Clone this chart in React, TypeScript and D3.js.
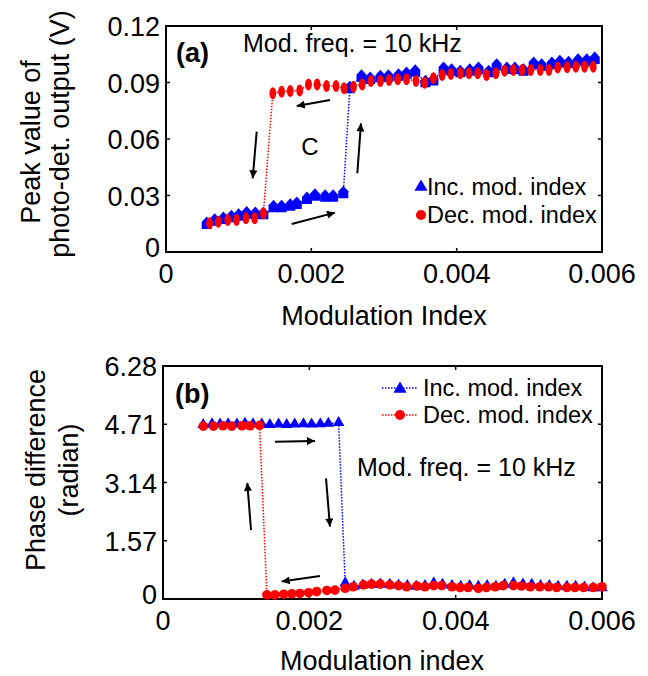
import React from "react";
import * as d3 from "d3";

// ---------- Data ----------
const xTickVals = [0, 0.002, 0.004, 0.006];
const xTickLabels = ["0", "0.002", "0.004", "0.006"];
const yTickValsA = [0, 0.03, 0.06, 0.09, 0.12];
const yTickLabelsA = ["0", "0.03", "0.06", "0.09", "0.12"];
const yTickValsB = [0, 1.57, 3.14, 4.71, 6.28];
const yTickLabelsB = ["0", "1.57", "3.14", "4.71", "6.28"];

// (a) peak value, increasing modulation index
const incXA = [0.00056, 0.00067, 0.00079, 0.0009, 0.001, 0.00111, 0.00123, 0.00134, 0.00148, 0.00159, 0.00171, 0.0018, 0.00194, 0.00205, 0.00219, 0.0023, 0.00244, 0.00253, 0.00269, 0.00281, 0.00295, 0.00306, 0.0032, 0.00331, 0.00343, 0.00357, 0.00368, 0.00382, 0.00393, 0.00405, 0.00418, 0.0043, 0.00444, 0.00455, 0.00469, 0.0048, 0.00492, 0.00506, 0.00517, 0.00531, 0.00542, 0.00554, 0.00567, 0.00579, 0.0059];
const incYA = [0.0149, 0.0166, 0.0175, 0.0184, 0.0193, 0.0205, 0.0202, 0.02, 0.0237, 0.0237, 0.0246, 0.0255, 0.0281, 0.0299, 0.0294, 0.0294, 0.0312, 0.0869, 0.0931, 0.0919, 0.0928, 0.0931, 0.0936, 0.0945, 0.0957, 0.0901, 0.091, 0.0972, 0.0963, 0.0954, 0.0963, 0.0972, 0.0954, 0.0989, 0.0972, 0.0972, 0.0963, 0.0998, 0.0989, 0.0998, 0.1007, 0.1002, 0.1016, 0.1016, 0.1025];
// (a) decreasing modulation index
const decXA = [0.0006, 0.00072, 0.00085, 0.00097, 0.0011, 0.00122, 0.00134, 0.00147, 0.00159, 0.00171, 0.00184, 0.00196, 0.00208, 0.00221, 0.00234, 0.00245, 0.00258, 0.0027, 0.00282, 0.00295, 0.00307, 0.00319, 0.00331, 0.00344, 0.00356, 0.00368, 0.0038, 0.00392, 0.00405, 0.00417, 0.00429, 0.00441, 0.00454, 0.00466, 0.00478, 0.0049, 0.00502, 0.00515, 0.00527, 0.00539, 0.00552, 0.00564, 0.00576, 0.00588];
const decYA = [0.0152, 0.0161, 0.017, 0.017, 0.0179, 0.0179, 0.0205, 0.0843, 0.0851, 0.0855, 0.0857, 0.089, 0.089, 0.0881, 0.0881, 0.0869, 0.0878, 0.089, 0.0908, 0.0908, 0.0913, 0.0917, 0.0917, 0.0908, 0.0899, 0.0922, 0.094, 0.0945, 0.0949, 0.0949, 0.0949, 0.094, 0.0949, 0.0963, 0.0966, 0.0966, 0.0966, 0.0966, 0.0966, 0.0979, 0.0981, 0.0984, 0.0984, 0.0984];

// (b) phase difference, increasing modulation index
const incXB = [0.00055, 0.00067, 0.00078, 0.00089, 0.00101, 0.00112, 0.00123, 0.00135, 0.00146, 0.00158, 0.00169, 0.0018, 0.00192, 0.00203, 0.00215, 0.00226, 0.0024, 0.00249, 0.00261, 0.00273, 0.00285, 0.00297, 0.0031, 0.00322, 0.00334, 0.00346, 0.00358, 0.0037, 0.00382, 0.00395, 0.00407, 0.00419, 0.00431, 0.00443, 0.00455, 0.00467, 0.00479, 0.00492, 0.00504, 0.00516, 0.00528, 0.0054, 0.00552, 0.00564, 0.00576, 0.00588, 0.006];
const incYB = [4.7, 4.72, 4.71, 4.72, 4.71, 4.73, 4.72, 4.71, 4.7, 4.71, 4.7, 4.71, 4.72, 4.71, 4.72, 4.73, 4.75, 0.43, 0.34, 0.37, 0.39, 0.4, 0.39, 0.37, 0.36, 0.34, 0.36, 0.43, 0.39, 0.36, 0.34, 0.36, 0.34, 0.36, 0.34, 0.39, 0.43, 0.4, 0.39, 0.36, 0.36, 0.34, 0.34, 0.34, 0.32, 0.3, 0.3];
// (b) decreasing modulation index
const decXB = [0.00055, 0.00069, 0.00082, 0.00094, 0.00108, 0.00119, 0.00132, 0.00142, 0.00153, 0.00165, 0.00176, 0.00187, 0.00199, 0.0021, 0.00224, 0.00235, 0.00249, 0.0026, 0.00274, 0.00285, 0.00297, 0.0031, 0.00322, 0.00333, 0.00347, 0.00358, 0.0037, 0.00381, 0.00395, 0.00406, 0.00417, 0.00431, 0.00442, 0.00454, 0.00465, 0.00479, 0.0049, 0.00502, 0.00515, 0.00527, 0.00538, 0.00552, 0.00563, 0.00575, 0.00588, 0.006];
const decYB = [4.66, 4.66, 4.67, 4.66, 4.67, 4.67, 4.68, 0.11, 0.11, 0.13, 0.14, 0.15, 0.17, 0.2, 0.23, 0.24, 0.29, 0.33, 0.38, 0.4, 0.4, 0.38, 0.36, 0.33, 0.35, 0.33, 0.36, 0.36, 0.33, 0.31, 0.31, 0.29, 0.31, 0.33, 0.36, 0.36, 0.35, 0.33, 0.33, 0.33, 0.31, 0.31, 0.31, 0.31, 0.31, 0.33];

// arrows [x1, y1, x2, y2] in data units
const arrowsA = [
  [0.002257, 0.0807, 0.001799, 0.0775],
  [0.001248, 0.0639, 0.001193, 0.0391],
  [0.00173, 0.0149, 0.002326, 0.0209],
  [0.002633, 0.0418, 0.002683, 0.0683],
];
const arrowsB = [
  [0.001531, 4.24, 0.002077, 4.26],
  [0.002228, 3.25, 0.002282, 1.95],
  [0.002146, 0.62, 0.001622, 0.47],
  [0.001203, 1.86, 0.001152, 3.13],
];

const BLUE = "#0000ff";
const RED = "#ff0000";
const FONT = "'Liberation Sans', Arial, Helvetica, sans-serif";

const zip = (xs: number[], ys: number[]) => xs.map((x, i) => [x, ys[i]] as [number, number]);

export default function App() {
  const xA = d3.scaleLinear().domain([0, 0.006]).range([166, 602]);
  const yA = d3.scaleLinear().domain([0, 0.12]).range([252, 26]);
  const xB = d3.scaleLinear().domain([0, 0.006]).range([163, 602]);
  const yB = d3.scaleLinear().domain([0, 6.28]).range([599, 366]);

  const lineA = d3.line<[number, number]>().x((d) => xA(d[0])).y((d) => yA(d[1]));
  const lineB = d3.line<[number, number]>().x((d) => xB(d[0])).y((d) => yB(d[1]));

  const incA = zip(incXA, incYA);
  const decA = zip(decXA, decYA);
  const incB = zip(incXB, incYB);
  const decB = zip(decXB, decYB);

  const tri = d3.symbol().type(d3.symbolTriangle).size(58)()!;
  const triLeg = d3.symbol().type(d3.symbolTriangle).size(75)()!;
  const house = "M0,-7.5L5,-2L5,5L-5,5L-5,-2Z";

  const axes = (
    x: d3.ScaleLinear<number, number>,
    y: d3.ScaleLinear<number, number>,
    yVals: number[],
    yLabels: string[],
    labelRight: number
  ) => {
    const [x0, x1] = x.range();
    const [y0, y1] = y.range();
    const tl = 4;
    return (
      <g>
        <rect x={x0} y={y1} width={x1 - x0} height={y0 - y1} fill="none" stroke="#000" strokeWidth={2} />
        {xTickVals.map((v, i) => (
          <g key={"xt" + i}>
            <line x1={x(v)} x2={x(v)} y1={y0} y2={y0 - tl} stroke="#000" strokeWidth={1.5} />
            <line x1={x(v)} x2={x(v)} y1={y1} y2={y1 + tl} stroke="#000" strokeWidth={1.5} />
            <text x={x(v)} y={y0 + 31} textAnchor="middle" fontSize={27} fontFamily={FONT}>
              {xTickLabels[i]}
            </text>
          </g>
        ))}
        {yVals.map((v, i) => (
          <g key={"yt" + i}>
            <line x1={x0} x2={x0 + tl} y1={y(v)} y2={y(v)} stroke="#000" strokeWidth={1.5} />
            <line x1={x1} x2={x1 - tl} y1={y(v)} y2={y(v)} stroke="#000" strokeWidth={1.5} />
            <text x={labelRight} y={y(v) + (i === 0 ? 5 : 10)} textAnchor="end" fontSize={27} fontFamily={FONT}>
              {yLabels[i]}
            </text>
          </g>
        ))}
      </g>
    );
  };

  const arrow = (
    a: number[],
    x: d3.ScaleLinear<number, number>,
    y: d3.ScaleLinear<number, number>,
    k: string
  ) => (
    <line key={k} x1={x(a[0])} y1={y(a[1])} x2={x(a[2])} y2={y(a[3])} stroke="#000" strokeWidth={2} markerEnd="url(#ah)" />
  );

  return (
    <svg width={648} height={676} style={{ position: "absolute", left: 0, top: 0, background: "#fff" }} fontFamily={FONT}>
      <defs>
        <marker id="ah" viewBox="0 0 10 10" refX={10} refY={5} markerWidth={11} markerHeight={8} markerUnits="userSpaceOnUse" orient="auto">
          <path d="M0,0L10,5L0,10Z" fill="#000" />
        </marker>
      </defs>
      <rect width={648} height={676} fill="#fff" />

      {/* ---------- Panel (a) ---------- */}
      {axes(xA, yA, yTickValsA, yTickLabelsA, 160)}
      <path d={lineA(incA)!} fill="none" stroke={BLUE} strokeWidth={1.5} strokeDasharray="1.5,1.5" />
      <path d={lineA(decA)!} fill="none" stroke={RED} strokeWidth={1.5} strokeDasharray="1.5,1.5" />
      {incA.map((d, i) => (
        <path key={"ia" + i} d={house} transform={`translate(${xA(d[0])},${yA(d[1])})`} fill={BLUE} />
      ))}
      {decA.map((d, i) => (
        <ellipse key={"da" + i} cx={xA(d[0])} cy={yA(d[1])} rx={3.4} ry={6} fill={RED} />
      ))}
      {arrowsA.map((a, i) => arrow(a, xA, yA, "aa" + i))}
      <text x={176} y={62} fontSize={27} fontWeight="bold">(a)</text>
      <text x={243} y={52} fontSize={25}>Mod. freq. = 10 kHz</text>
      <text x={310} y={155} fontSize={24} textAnchor="middle">C</text>
      <path d={triLeg} transform="translate(421,187)" fill={BLUE} />
      <text x={427} y={195} fontSize={23.5}>Inc. mod. index</text>
      <circle cx={421} cy={215} r={5} fill={RED} />
      <text x={427} y={223} fontSize={23.5}>Dec. mod. index</text>
      <text x={384} y={325} fontSize={27} textAnchor="middle">Modulation Index</text>
      <text transform="translate(40,142) rotate(-90)" fontSize={27} textAnchor="middle">Peak value of</text>
      <text transform="translate(69,134) rotate(-90)" fontSize={27} textAnchor="middle">photo-det. output (V)</text>

      {/* ---------- Panel (b) ---------- */}
      {axes(xB, yB, yTickValsB, yTickLabelsB, 157)}
      <path d={lineB(incB)!} fill="none" stroke={BLUE} strokeWidth={1.5} strokeDasharray="1.5,1.5" />
      <path d={lineB(decB)!} fill="none" stroke={RED} strokeWidth={1.5} strokeDasharray="1.5,1.5" />
      {incB.map((d, i) => (
        <path key={"ib" + i} d={tri} transform={`translate(${xB(d[0])},${yB(d[1])})`} fill={BLUE} />
      ))}
      {decB.map((d, i) => (
        <circle key={"db" + i} cx={xB(d[0])} cy={yB(d[1])} r={4.8} fill={RED} />
      ))}
      {arrowsB.map((a, i) => arrow(a, xB, yB, "ab" + i))}
      <text x={175} y={403} fontSize={27} fontWeight="bold">(b)</text>
      <line x1={382} x2={418} y1={388} y2={388} stroke={BLUE} strokeWidth={1.5} strokeDasharray="1.5,1.5" />
      <path d={triLeg} transform="translate(400,389)" fill={BLUE} />
      <text x={423} y={396} fontSize={23.5}>Inc. mod. index</text>
      <line x1={382} x2={418} y1={415} y2={415} stroke={RED} strokeWidth={1.5} strokeDasharray="1.5,1.5" />
      <circle cx={400} cy={415} r={5} fill={RED} />
      <text x={423} y={423} fontSize={23.5}>Dec. mod. index</text>
      <text x={357} y={476} fontSize={25}>Mod. freq. = 10 kHz</text>
      <text x={382} y={670} fontSize={27} textAnchor="middle">Modulation index</text>
      <text transform="translate(45,470) rotate(-90)" fontSize={27} textAnchor="middle">Phase difference</text>
      <text transform="translate(78,470) rotate(-90)" fontSize={27} textAnchor="middle">(radian)</text>
    </svg>
  );
}
